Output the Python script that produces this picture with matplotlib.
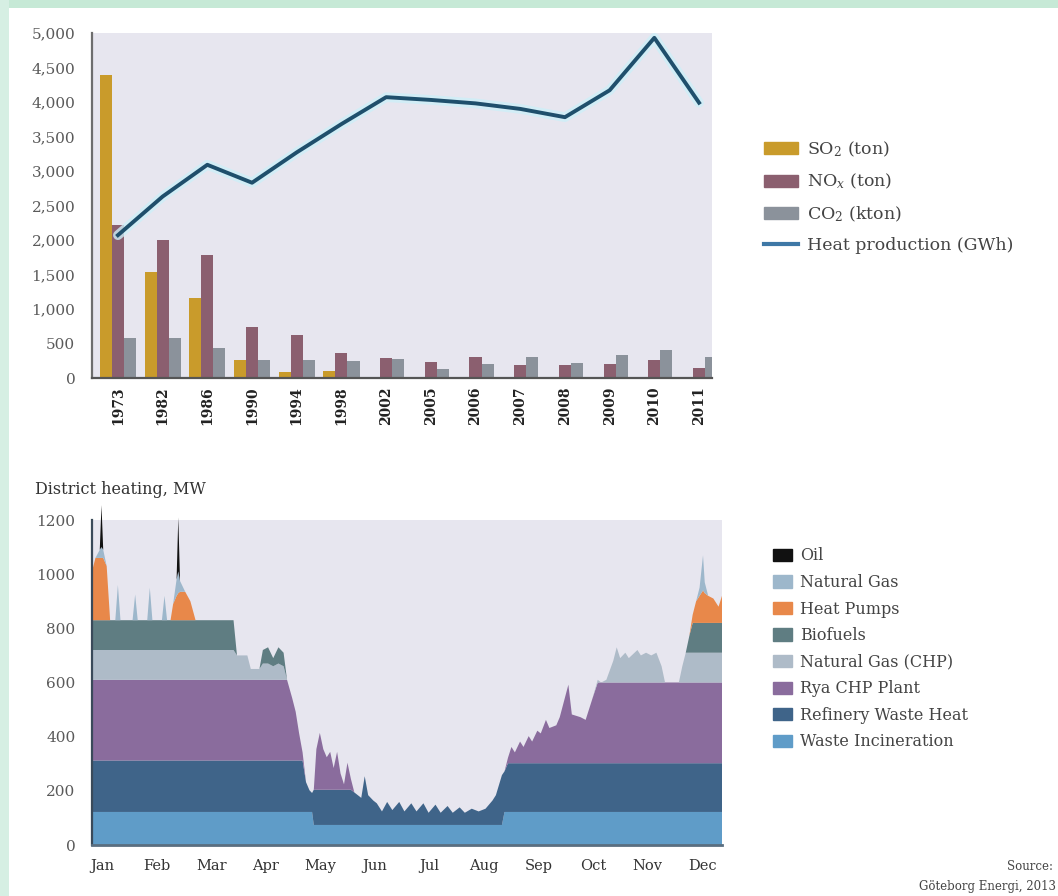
import matplotlib
matplotlib.use("Agg")
import matplotlib.pyplot as plt
from matplotlib.patches import Patch, Rectangle
from matplotlib.lines import Line2D

plt.rcParams['font.family'] = ['DejaVu Serif']
plt.rcParams['mathtext.fontset'] = 'dejavuserif'

# ---------------- top chart data ----------------
years = ['1973', '1982', '1986', '1990', '1994', '1998', '2002', '2005', '2006',
         '2007', '2008', '2009', '2010', '2011']
so2 = [4390, 1540, 1155, 260, 90, 100, 20, 0, 0, 0, 0, 0, 0, 0]
nox = [2215, 2000, 1780, 745, 625, 360, 290, 235, 300, 190, 190, 200, 260, 140]
co2 = [575, 575, 430, 260, 260, 240, 275, 135, 200, 305, 220, 330, 405, 305]
heat = [2070, 2630, 3090, 2830, 3270, 3680, 4070, 4030, 3980, 3900, 3780, 4170, 4930, 3990]
top_yticks = [0, 500, 1000, 1500, 2000, 2500, 3000, 3500, 4000, 4500, 5000]
top_ylabels = ['0', '500', '1,000', '1,500', '2,000', '2,500', '3,000', '3,500',
               '4,000', '4,500', '5,000']

# ---------------- bottom chart data (day of year, MW per source) ----------------
day = [0, 2, 4.5, 5.5, 6.5, 8.5, 10.5, 13.5, 15, 16.5, 23.5, 25, 26.5, 32, 33.5, 35, 40.5, 42, 43.5, 45.5,
       47, 49, 50, 51, 54, 57, 60, 82,
       84, 90, 92, 97, 99, 102, 105, 108, 111,
       113, 116, 118, 120, 122, 124, 126, 127.5,
       128.5, 130, 132, 134, 136, 138, 140, 142, 144, 146, 148, 150, 152, 156, 158, 160, 163,
       165, 168, 171, 174, 178, 181, 185, 188, 192, 195, 199, 202, 206, 209, 213, 216, 220, 224, 228, 232, 234, 237.5,
       239, 241, 243, 245, 248, 250, 253, 255, 258, 260, 263, 265, 269, 271, 276, 278, 283, 286, 290,
       293, 295, 298, 302, 304, 306, 309, 311, 316, 318, 321, 324, 327, 330, 332, 340, 342, 344,
       346, 348, 350, 352, 354, 355, 357, 360, 363, 365]

waste = [122, 122, 122, 122, 122, 122, 122, 122, 122, 122, 122, 122, 122, 122, 122, 122, 122, 122, 122, 122,
         122, 122, 122, 122, 122, 122, 122, 122,
         122, 122, 122, 122, 122, 122, 122, 122, 122,
         122, 122, 122, 122, 122, 122, 122, 122,
         74, 74, 74, 74, 74, 74, 74, 74, 74, 74, 74, 74, 74, 74, 74, 74, 74,
         74, 74, 74, 74, 74, 74, 74, 74, 74, 74, 74, 74, 74, 74, 74, 74, 74, 74, 74, 74, 74, 74,
         122, 122, 122, 122, 122, 122, 122, 122, 122, 122, 122, 122, 122, 122, 122, 122, 122, 122, 122,
         122, 122, 122, 122, 122, 122, 122, 122, 122, 122, 122, 122, 122, 122, 122, 122, 122, 122,
         122, 122, 122, 122, 122, 122, 122, 122, 122, 122]

refinery = [190, 190, 190, 190, 190, 190, 190, 190, 190, 190, 190, 190, 190, 190, 190, 190, 190, 190, 190, 190,
            190, 190, 190, 190, 190, 190, 190, 190,
            190, 190, 190, 190, 190, 190, 190, 190, 190,
            190, 190, 190, 190, 190, 110, 80, 70,
            130, 130, 130, 130, 130, 130, 130, 130, 130, 130, 130, 130, 120, 100, 180, 110, 90,
            80, 50, 85, 55, 85, 50, 80, 50, 80, 45, 75, 45, 70, 45, 65, 45, 60, 50, 60, 90, 110, 184,
            150, 180, 180, 180, 180, 180, 180, 180, 180, 180, 180, 180, 180, 180, 180, 180, 180, 180, 180,
            180, 180, 180, 180, 180, 180, 180, 180, 180, 180, 180, 180, 180, 180, 180, 180, 180, 180,
            180, 180, 180, 180, 180, 180, 180, 180, 180, 180]

rya = [298, 298, 298, 298, 298, 298, 298, 298, 298, 298, 298, 298, 298, 298, 298, 298, 298, 298, 298, 298,
       298, 298, 298, 298, 298, 298, 298, 298,
       298, 298, 298, 298, 298, 298, 298, 298, 298,
       298, 230, 180, 100, 30, 0, 0, 0,
       0, 150, 210, 150, 120, 140, 80, 140, 60, 20, 100, 40, 0, 0, 0, 0, 0,
       0, 0, 0, 0, 0, 0, 0, 0, 0, 0, 0, 0, 0, 0, 0, 0, 0, 0, 0, 0, 0, 0,
       0, 20, 60, 40, 80, 60, 100, 80, 120, 110, 160, 130, 140, 170, 290, 180, 170, 160, 240,
       298, 298, 298, 298, 298, 298, 298, 298, 298, 298, 298, 298, 298, 298, 298, 298, 298, 298,
       298, 298, 298, 298, 298, 298, 298, 298, 298, 298]

gas_chp = [110, 110, 110, 110, 110, 110, 110, 110, 110, 110, 110, 110, 110, 110, 110, 110, 110, 110, 110, 110,
           110, 110, 110, 110, 110, 110, 110, 110,
           90, 90, 40, 40, 60, 60, 50, 60, 50,
           0, 0, 0, 0, 0, 0, 0, 0,
           0, 0, 0, 0, 0, 0, 0, 0, 0, 0, 0, 0, 0, 0, 0, 0, 0,
           0, 0, 0, 0, 0, 0, 0, 0, 0, 0, 0, 0, 0, 0, 0, 0, 0, 0, 0, 0, 0, 0,
           0, 0, 0, 0, 0, 0, 0, 0, 0, 0, 0, 0, 0, 0, 0, 0, 0, 0, 0,
           10, 0, 10, 80, 130, 90, 110, 90, 120, 100, 110, 100, 110, 60, 0, 0, 60, 110,
           110, 110, 110, 110, 110, 110, 110, 110, 110, 110]

biofuels = [110, 110, 110, 110, 110, 110, 110, 110, 110, 110, 110, 110, 110, 110, 110, 110, 110, 110, 110, 110,
            110, 110, 110, 110, 110, 110, 110, 110,
            0, 0, 0, 0, 50, 60, 30, 60, 50,
            0, 0, 0, 0, 0, 0, 0, 0,
            0, 0, 0, 0, 0, 0, 0, 0, 0, 0, 0, 0, 0, 0, 0, 0, 0,
            0, 0, 0, 0, 0, 0, 0, 0, 0, 0, 0, 0, 0, 0, 0, 0, 0, 0, 0, 0, 0, 0,
            0, 0, 0, 0, 0, 0, 0, 0, 0, 0, 0, 0, 0, 0, 0, 0, 0, 0, 0,
            0, 0, 0, 0, 0, 0, 0, 0, 0, 0, 0, 0, 0, 0, 0, 0, 0, 0,
            60, 110, 110, 110, 110, 110, 110, 110, 110, 110]

heat_pumps = [180, 230, 230, 230, 230, 200, 0, 0, 0, 0, 0, 0, 0, 0, 0, 0, 0, 0, 0, 0,
              60, 90, 100, 105, 105, 70, 0, 0,
              0, 0, 0, 0, 0, 0, 0, 0, 0,
              0, 0, 0, 0, 0, 0, 0, 0,
              0, 0, 0, 0, 0, 0, 0, 0, 0, 0, 0, 0, 0, 0, 0, 0, 0,
              0, 0, 0, 0, 0, 0, 0, 0, 0, 0, 0, 0, 0, 0, 0, 0, 0, 0, 0, 0, 0, 0,
              0, 0, 0, 0, 0, 0, 0, 0, 0, 0, 0, 0, 0, 0, 0, 0, 0, 0, 0,
              0, 0, 0, 0, 0, 0, 0, 0, 0, 0, 0, 0, 0, 0, 0, 0, 0, 0,
              0, 30, 80, 100, 120, 110, 100, 90, 60, 100]

nat_gas = [0, 0, 30, 40, 30, 0, 0, 0, 130, 0, 0, 95, 0, 0, 120, 0, 0, 90, 0, 0,
           0, 60, 80, 40, 0, 0, 0, 0,
           0, 0, 0, 0, 0, 0, 0, 0, 0,
           0, 0, 0, 0, 0, 0, 0, 0,
           0, 0, 0, 0, 0, 0, 0, 0, 0, 0, 0, 0, 0, 0, 0, 0, 0,
           0, 0, 0, 0, 0, 0, 0, 0, 0, 0, 0, 0, 0, 0, 0, 0, 0, 0, 0, 0, 0, 0,
           0, 0, 0, 0, 0, 0, 0, 0, 0, 0, 0, 0, 0, 0, 0, 0, 0, 0, 0,
           0, 0, 0, 0, 0, 0, 0, 0, 0, 0, 0, 0, 0, 0, 0, 0, 0, 0,
           0, 0, 0, 30, 130, 40, 0, 0, 0, 0]

oil = [0, 0, 0, 155, 0, 0, 0, 0, 0, 0, 0, 0, 0, 0, 0, 0, 0, 0, 0, 0,
       0, 0, 200, 0, 0, 0, 0, 0,
       0, 0, 0, 0, 0, 0, 0, 0, 0,
       0, 0, 0, 0, 0, 0, 0, 0,
       0, 0, 0, 0, 0, 0, 0, 0, 0, 0, 0, 0, 0, 0, 0, 0, 0,
       0, 0, 0, 0, 0, 0, 0, 0, 0, 0, 0, 0, 0, 0, 0, 0, 0, 0, 0, 0, 0, 0,
       0, 0, 0, 0, 0, 0, 0, 0, 0, 0, 0, 0, 0, 0, 0, 0, 0, 0, 0,
       0, 0, 0, 0, 0, 0, 0, 0, 0, 0, 0, 0, 0, 0, 0, 0, 0, 0,
       0, 0, 0, 0, 0, 0, 0, 0, 0, 0]

months = ['Jan', 'Feb', 'Mar', 'Apr', 'May', 'Jun', 'Jul', 'Aug', 'Sep', 'Oct', 'Nov', 'Dec']
month_pos = [6, 37.6, 69.2, 100.8, 132.4, 164, 195.6, 227.2, 258.8, 290.4, 322, 353.6]
bot_yticks = [0, 200, 400, 600, 800, 1000, 1200]

layer_labels = ['Waste Incineration', 'Refinery Waste Heat', 'Rya CHP Plant', 'Natural Gas (CHP)',
                'Biofuels', 'Heat Pumps', 'Natural Gas', 'Oil']
layer_colors = ['#5F9CC8', '#3F6489', '#8A6C9D', '#AEBBC8', '#5F7D82', '#E8884A', '#9DB7CB', '#111111']

W, H = 1058, 896
fig = plt.figure(figsize=(W / 100, H / 100), dpi=100)
fig.patch.set_facecolor('white')

# decorative green frame
fig.patches.append(Rectangle((0, 1 - 8 / H), 1, 8 / H, transform=fig.transFigure,
                             facecolor='#C6E9D6', edgecolor='none', zorder=0))
fig.patches.append(Rectangle((0, 0), 9 / W, 1, transform=fig.transFigure,
                             facecolor='#D6EFE3', edgecolor='none', zorder=0))

bg = '#E7E6EF'
tick_col = '#5A5A5A'

# ---------------- top chart ----------------
ax1 = fig.add_axes([92 / W, 1 - 378 / H, (712 - 92) / W, (378 - 33) / H])
ax1.set_facecolor(bg)
x = list(range(len(years)))
bw = 0.27
ax1.bar([i - bw for i in x], so2, width=bw, color='#C99B2B', zorder=2)
ax1.bar(x, nox, width=bw, color='#8B5F6F', zorder=2)
ax1.bar([i + bw for i in x], co2, width=bw, color='#8B929B', zorder=2)
ax1.plot(x, heat, color='#CDEFF8', lw=7, alpha=0.8, zorder=3, solid_capstyle='round')
ax1.plot(x, heat, color='#1F4F6C', lw=2.8, zorder=4)
ax1.set_xlim(-0.58, 13.29)
ax1.set_ylim(0, 5000)
ax1.set_yticks(top_yticks)
ax1.set_yticklabels(top_ylabels, fontsize=11, color=tick_col)
ax1.set_xticks(x)
ax1.set_xticklabels(years, rotation=90, fontsize=10, fontweight='bold', color='#222222')
ax1.tick_params(length=0, pad=6)
ax1.tick_params(axis='y', pad=12)
for s in ['top', 'right']:
    ax1.spines[s].set_visible(False)
ax1.spines['left'].set_color('#6E6E6E')
ax1.spines['left'].set_linewidth(1.6)
ax1.spines['bottom'].set_color('#555555')
ax1.spines['bottom'].set_linewidth(1.6)

h_top = [Patch(color='#C99B2B'), Patch(color='#8B5F6F'), Patch(color='#8B929B'),
         Line2D([0], [0], color='#3E78A6', lw=3)]
l_top = ['SO$_2$ (ton)', 'NO$_x$ (ton)', 'CO$_2$ (kton)', 'Heat production (GWh)']
fig.legend(h_top, l_top, loc='upper left', bbox_to_anchor=(748 / W, 1 - 124 / H),
           frameon=False, fontsize=12.5, handlelength=2.0, handleheight=0.7,
           labelspacing=0.75, handletextpad=0.5, labelcolor='#444444')

# ---------------- bottom chart ----------------
ax2 = fig.add_axes([92 / W, 1 - 845 / H, (722 - 92) / W, (845 - 520) / H])
ax2.set_facecolor(bg)
polys = ax2.stackplot(day, waste, refinery, rya, gas_chp, biofuels, heat_pumps, nat_gas, oil,
                      colors=layer_colors, labels=layer_labels, lw=0)
for p in polys:
    p.set_clip_on(False)
ax2.set_xlim(0, 365)
ax2.set_ylim(0, 1200)
ax2.set_yticks(bot_yticks)
ax2.set_yticklabels([str(v) for v in bot_yticks], fontsize=11, color=tick_col)
ax2.set_xticks(month_pos)
ax2.set_xticklabels(months, fontsize=10.5, color='#333333')
ax2.tick_params(length=0)
ax2.tick_params(axis='y', pad=12)
ax2.tick_params(axis='x', pad=10)
for s in ['top', 'right']:
    ax2.spines[s].set_visible(False)
ax2.spines['left'].set_color('#3A4A5A')
ax2.spines['left'].set_linewidth(1.6)
ax2.spines['bottom'].set_color('#5A6E80')
ax2.spines['bottom'].set_linewidth(2)

fig.text(35 / W, 1 - 489 / H, 'District heating, MW', fontsize=11.5, color='#333333',
         va='center', ha='left')

h_bot = [Patch(color=c) for c in layer_colors[::-1]]
fig.legend(h_bot, layer_labels[::-1], loc='upper left', bbox_to_anchor=(759 / W, 1 - 533 / H),
           frameon=False, fontsize=11.5, handlelength=1.15, handleheight=0.8,
           labelspacing=0.6, handletextpad=0.5, labelcolor='#444444')

fig.text(1053 / W, 1 - 866 / H, 'Source:', fontsize=8.5, color='#444444', ha='right', va='center')
fig.text(1056 / W, 1 - 886 / H, 'Göteborg Energi, 2013', fontsize=8.5, color='#444444',
         ha='right', va='center')

fig.savefig('out.png', dpi=100, facecolor='white')
